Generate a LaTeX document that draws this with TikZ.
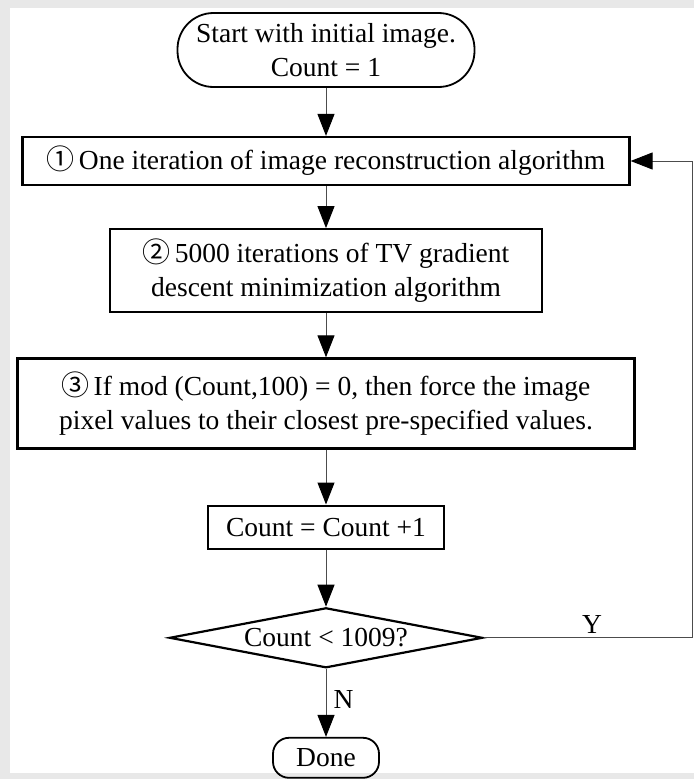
\documentclass[tikz,border=0pt]{standalone}
\usepackage{fontspec}
\setmainfont{Liberation Serif}
\newfontfamily\circfont{Noto Sans CJK SC}
\usetikzlibrary{shapes.geometric,arrows.meta,positioning}
\newcommand{\stepnum}[1]{{\circfont\fontsize{28}{28}\selectfont #1}\hspace{4pt}}

\begin{document}
\begin{tikzpicture}[
    x=1pt, y=1pt,
    node distance=44pt,
    stepbox/.style={rectangle, draw, line width=2.2pt, align=center, inner sep=0pt, font=\fontsize{27.5}{34}\selectfont},
    term/.style={rectangle, draw, line width=1.8pt, align=center, inner sep=0pt, font=\fontsize{27.5}{34}\selectfont},
    decision/.style={diamond, draw, line width=2.2pt, aspect=5.2, inner sep=0pt, font=\fontsize{27.5}{34}\selectfont},
    flow/.style={draw=black!70, line width=1pt, -{Triangle[length=22pt, width=17pt, color=black]}},
    lab/.style={font=\fontsize{27.5}{34}\selectfont, inner sep=4pt}
]
    % Frame
    \useasboundingbox (0,0) rectangle (694,-779);
    \fill[black!9] (0,0) rectangle (694,-779);
    \fill[white] (10,-8) rectangle (694,-773);

    % Start
    \node[term, rounded corners=36pt, minimum width=297pt, minimum height=74pt] (start) at (326,-50)
        {Start with initial image.\\Count = 1};

    % Steps
    \node[stepbox, below=48pt of start, minimum width=607pt, minimum height=48pt] (iter)
        {\stepnum{①}One iteration of image reconstruction algorithm};
    \node[stepbox, below=42pt of iter, minimum width=432pt, minimum height=83pt] (tv)
        {\stepnum{②}5000 iterations of TV gradient\\descent minimization algorithm};
    \node[stepbox, below=44pt of tv, minimum width=617pt, minimum height=90pt] (force)
        {\stepnum{③}If mod (Count,100) = 0, then force the image\\pixel values to their closest pre-specified values.};
    \node[stepbox, below=55pt of force, minimum width=236pt, minimum height=43pt] (incr)
        {Count = Count +1};

    % Test and end
    \node[decision, below=57pt of incr, minimum width=313pt, minimum height=60pt] (check)
        {Count < 1009?};
    \node[term, rounded corners=16pt, below=68pt of check, minimum width=106pt, minimum height=40pt] (done)
        {Done};
    \coordinate (loop) at (692,0);

    % Connections
    \draw[flow] (start) -- (iter);
    \draw[flow] (iter) -- (tv);
    \draw[flow] (tv) -- (force);
    \draw[flow] (force) -- (incr);
    \draw[flow] (incr) -- (check);
    \draw[flow] (check) -- node[lab, right, pos=0.45, xshift=3pt] (nlab) {N} (done);
    \draw[flow] (check.east) -- node[lab, above, pos=0.52] (ylab) {Y} (check.east -| loop) |- (iter.east);
\end{tikzpicture}
\end{document}
